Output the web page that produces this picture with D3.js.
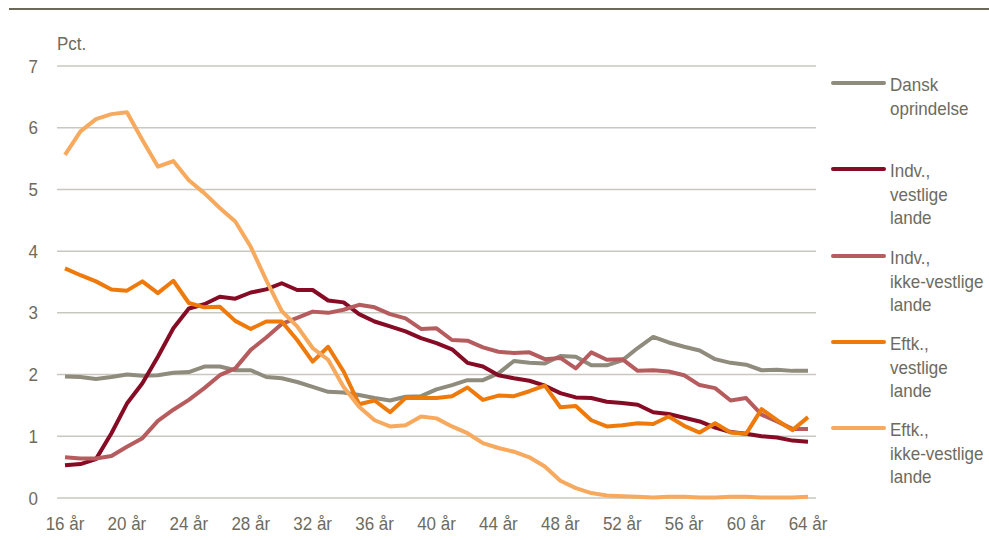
<!DOCTYPE html>
<html>
<head>
<meta charset="utf-8">
<script src="https://cdn.jsdelivr.net/npm/d3@7/dist/d3.min.js"></script>
<style>
  html, body { margin: 0; padding: 0; background: #fff; }
  svg text { font-family: "Liberation Sans", Arial, sans-serif; fill: #6d6b5e; font-size: 17px; }
</style>
</head>
<body>
<svg id="chart" width="989" height="540"></svg>
<script>
const ages = d3.range(16, 65);
const xTickAges = [16, 20, 24, 28, 32, 36, 40, 44, 48, 52, 56, 60, 64];
const yTicks = [0, 1, 2, 3, 4, 5, 6, 7];

const danskOprindelse = [1.97,1.96,1.93,1.96,2.00,1.98,1.99,2.03,2.04,2.13,2.13,2.07,2.07,1.96,1.94,1.88,1.80,1.72,1.71,1.67,1.62,1.58,1.64,1.65,1.76,1.83,1.91,1.91,2.02,2.22,2.19,2.18,2.30,2.29,2.15,2.15,2.23,2.43,2.61,2.52,2.45,2.39,2.25,2.19,2.16,2.07,2.08,2.06,2.06];
const indvVestlige = [0.53,0.55,0.63,1.05,1.53,1.86,2.29,2.75,3.07,3.14,3.26,3.23,3.33,3.38,3.48,3.37,3.37,3.20,3.17,2.98,2.86,2.78,2.70,2.59,2.51,2.41,2.19,2.13,1.99,1.94,1.90,1.82,1.70,1.63,1.62,1.56,1.54,1.51,1.39,1.36,1.30,1.24,1.14,1.07,1.04,1.00,0.98,0.93,0.91];
const indvIkkeVestlige = [0.66,0.64,0.64,0.68,0.83,0.97,1.25,1.43,1.59,1.78,1.99,2.10,2.40,2.60,2.82,2.92,3.02,3.00,3.05,3.13,3.09,2.98,2.91,2.74,2.75,2.56,2.55,2.44,2.37,2.35,2.36,2.25,2.27,2.10,2.36,2.24,2.25,2.06,2.07,2.05,1.99,1.83,1.78,1.58,1.62,1.35,1.24,1.12,1.12];
const eftkVestlige = [3.72,3.61,3.51,3.38,3.36,3.51,3.32,3.52,3.16,3.09,3.10,2.87,2.74,2.86,2.86,2.56,2.21,2.45,2.05,1.52,1.58,1.39,1.62,1.62,1.62,1.65,1.79,1.59,1.66,1.65,1.73,1.82,1.47,1.49,1.26,1.16,1.18,1.21,1.20,1.32,1.17,1.06,1.21,1.06,1.04,1.44,1.26,1.10,1.31];
const eftkIkkeVestlige = [5.56,5.94,6.14,6.22,6.25,5.80,5.37,5.46,5.15,4.94,4.70,4.48,4.07,3.53,3.03,2.78,2.43,2.24,1.80,1.48,1.26,1.16,1.18,1.32,1.29,1.16,1.05,0.89,0.81,0.75,0.66,0.51,0.28,0.16,0.08,0.04,0.03,0.02,0.01,0.02,0.02,0.01,0.01,0.02,0.02,0.01,0.01,0.01,0.02];

const seriesNames = ["Dansk\noprindelse", "Indv.,\nvestlige\nlande", "Indv.,\nikke-vestlige\nlande", "Eftk.,\nvestlige\nlande", "Eftk.,\nikke-vestlige\nlande"];
const seriesValues = [danskOprindelse, indvVestlige, indvIkkeVestlige, eftkVestlige, eftkIkkeVestlige];
const seriesColors = ["#8f8c7d", "#860b24", "#b65c5e", "#ee7a0c", "#f7a95e"];

const svg = d3.select("#chart");

// text helper: slightly taller glyphs like the reference's condensed face
function label(parent, x0, y0, str, anchor) {
  const g = parent.append("g").attr("transform", `translate(${x0},${y0}) scale(1,1.1)`);
  return g.append("text").attr("x", 0).attr("y", 0).attr("text-anchor", anchor || "start").text(str);
}

// top rule
svg.append("line").attr("x1", 9).attr("x2", 989).attr("y1", 9).attr("y2", 9)
  .attr("stroke", "#6b6a5a").attr("stroke-width", 2);

const x = d3.scalePoint().domain(ages).range([65, 808]);
const y = d3.scaleLinear().domain([0, 7]).range([498, 66]);

// gridlines
svg.append("g").selectAll("line").data(yTicks).join("line")
  .attr("x1", 57).attr("x2", 816)
  .attr("y1", d => y(d)).attr("y2", d => y(d))
  .attr("stroke", "#c9c8bf").attr("stroke-width", 1.5);

// y labels
const yl = svg.append("g");
yTicks.forEach(d => label(yl, 38, y(d) + 6.5, d, "end"));

label(svg, 57, 50, "Pct.");

// x labels
const xl = svg.append("g");
xTickAges.forEach(d => label(xl, x(d), 530, d + " år", "middle"));

// lines
const line = d3.line().x((d, i) => x(ages[i])).y(d => y(d));
svg.append("g").selectAll("path").data(seriesValues).join("path")
  .attr("d", d => line(d))
  .attr("fill", "none")
  .attr("stroke", (d, i) => seriesColors[i])
  .attr("stroke-width", 4)
  .attr("stroke-linejoin", "round");

// legend
const legendY = [83, 169, 256, 342, 428];
const lg = svg.append("g");
seriesNames.forEach((name, i) => {
  lg.append("line").attr("x1", 833).attr("x2", 884)
    .attr("y1", legendY[i]).attr("y2", legendY[i])
    .attr("stroke", seriesColors[i]).attr("stroke-width", 4).attr("stroke-linecap", "round");
  name.split("\n").forEach((part, j) => {
    label(lg, 890, legendY[i] + 8 + j * 23.5, part);
  });
});
</script>
</body>
</html>
